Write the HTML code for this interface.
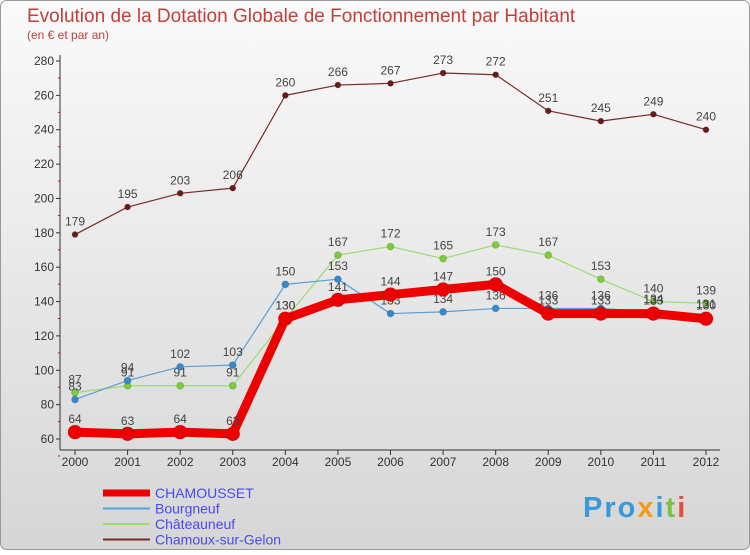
<!DOCTYPE html>
<html><head><meta charset="utf-8"><style>
body{margin:0;width:750px;height:550px;overflow:hidden;font-family:"Liberation Sans",sans-serif}
</style></head><body>
<svg width="750" height="550" xmlns="http://www.w3.org/2000/svg">
<defs><linearGradient id="bg" x1="0" y1="0" x2="0" y2="1"><stop offset="0" stop-color="#fafafa"/><stop offset="1" stop-color="#d6d6d6"/></linearGradient></defs>
<rect x="0.5" y="0.5" width="749" height="549" rx="6" fill="url(#bg)" stroke="#999"/>
<text x="27" y="22" font-size="19" fill="#c0403a">Evolution de la Dotation Globale de Fonctionnement par Habitant</text>
<text x="27" y="39" font-size="12" fill="#c0403a">(en € et par an)</text>
<g id="axes"></g><g id="series"></g><g id="legend"></g>
<text x="583" y="517" font-size="29" font-weight="bold" letter-spacing="2" fill="#3a9ad9">Pro<tspan fill="#f39c12">x</tspan><tspan fill="#3a9ad9">i</tspan><tspan fill="#7cc242">t</tspan><tspan fill="#e74c3c">i</tspan></text>
</svg>
<script>
const years=[2000,2001,2002,2003,2004,2005,2006,2007,2008,2009,2010,2011,2012];
const yTicks=[60,80,100,120,140,160,180,200,220,240,260,280];
const chamousset=[64,63,64,63,130,141,144,147,150,133,133,133,130];
const bourgneuf=[83,94,102,103,150,153,133,134,136,136,136,134,131];
const chateauneuf=[87,91,91,91,130,167,172,165,173,167,153,140,139];
const chamoux=[179,195,203,206,260,266,267,273,272,251,245,249,240];
const NS="http://www.w3.org/2000/svg";
const X=i=>75+i*(706-75)/12;
const Y=v=>439-(v-60)*(439-61)/220;
function mk(t,a,p){const e=document.createElementNS(NS,t);for(const k in a)e.setAttribute(k,a[k]);p.appendChild(e);return e;}
const ax=document.getElementById('axes');
let l=mk('line',{x1:60,y1:55,x2:60,y2:450,stroke:'#333'},ax);


l=mk('line',{x1:60,y1:450,x2:720,y2:450,stroke:'#333'},ax);


yTicks.forEach(v=>{
 const y=Y(v);
 const t=mk('line',{x1:56,y1:y,x2:60,y2:y,stroke:'#333'},ax);
 
 
 const m=mk('line',{x1:58,y1:y+17,x2:60,y2:y+17,stroke:'#e00'},ax);
 
 
 const tx=mk('text',{x:54,y:y+4,'font-size':12,fill:'#333','text-anchor':'end'},ax);
 tx.textContent=v;
 
 
});
years.forEach((yr,i)=>{
 const x=X(i);
 const t=mk('line',{x1:x,y1:450,x2:x,y2:455,stroke:'#333'},ax);
 
 
 const tx=mk('text',{x:x,y:466,'font-size':12,fill:'#333','text-anchor':'middle'},ax);
 tx.textContent=yr;
 
 
});
const sg=document.getElementById('series');
function series(data,color,w,r,name,dot){
 const g=mk('g',{},sg);
 
 
 const p=mk('polyline',{points:data.map((v,i)=>X(i)+','+Y(v)).join(' '),fill:'none',stroke:color,'stroke-width':w,'stroke-linejoin':'round'},g);
 
 
 data.forEach((v,i)=>{
  const c=mk('circle',{cx:X(i),cy:Y(v),r:r,fill:dot,stroke:'#0002'},g);
  
  
  const t=mk('text',{x:X(i),y:Y(v)-9,'font-size':12,fill:'#444','text-anchor':'middle'},g);
  t.textContent=v;
  
  
 });
}
series(chamoux,'#7a2a2a',1.2,3,'chamoux','#6a1a1a');
series(chateauneuf,'#9bdc70',1.2,3.5,'chateauneuf','#7ccc3c');
series(bourgneuf,'#5a9fd6',1.2,3.5,'bourgneuf','#3a88cc');
series(chamousset,'#ee0000',9,7,'chamousset','#ee0000');
const lg=document.getElementById('legend');
const items=[['CHAMOUSSET','#ee0000',7],['Bourgneuf','#5a9fd6',2],['Châteauneuf','#9bdc70',2],['Chamoux-sur-Gelon','#7a2a2a',2]];
items.forEach((it,i)=>{
 const y=493+i*15.5;
 const ln=mk('line',{x1:103,y1:y,x2:150,y2:y,stroke:it[1],'stroke-width':it[2]},lg);
 
 
 const t=mk('text',{x:155,y:y+5,'font-size':14,fill:'#4a4af0'},lg);
 t.textContent=it[0];
 
 
});
</script>
</body></html>
